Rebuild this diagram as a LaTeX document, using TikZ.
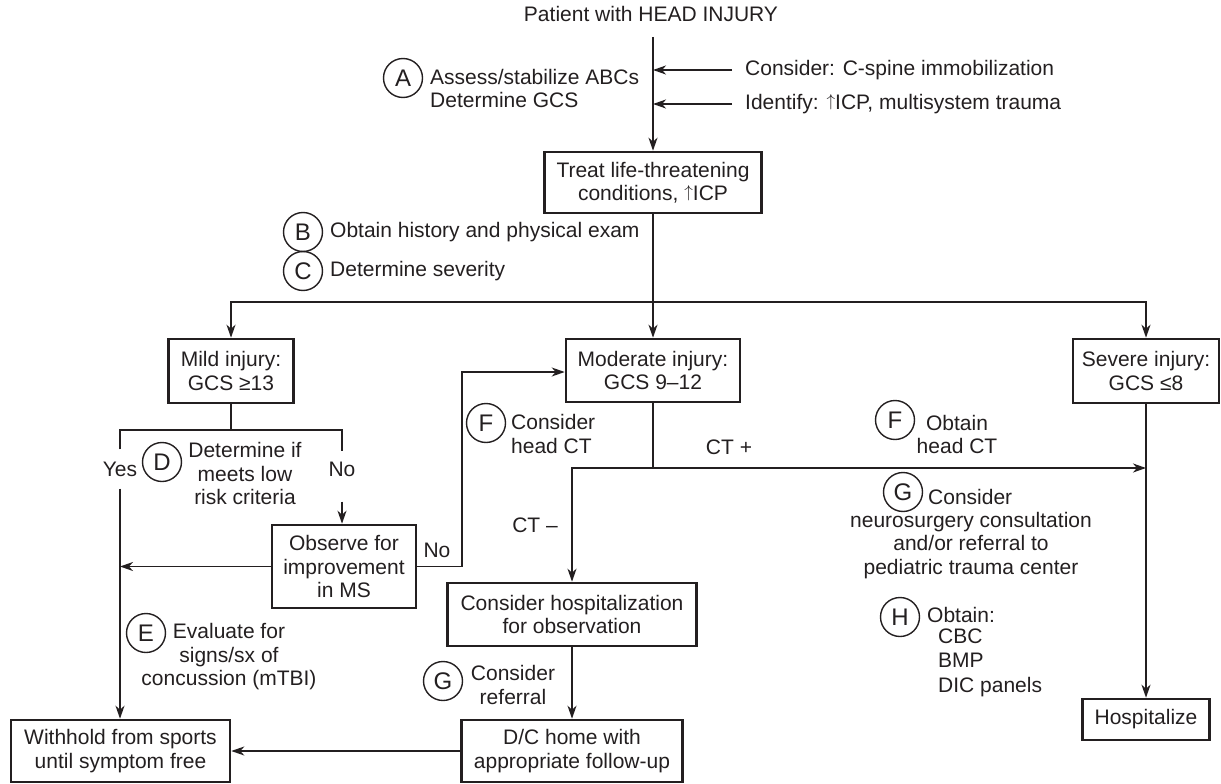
\documentclass[tikz,border=0pt]{standalone}
\usepackage{fontspec}
\setmainfont{Liberation Sans}
\usetikzlibrary{arrows.meta}
\definecolor{ink}{HTML}{231F20}
% thin, cap-height up arrow used before "ICP"
\newcommand{\risearrow}{\raisebox{3.2pt}{\fontsize{17}{17}\selectfont$\uparrow$}}
\begin{document}
\begin{tikzpicture}[x=1pt,y=-1pt,
  every node/.style={font=\fontsize{21}{23.5}\selectfont, text=ink},
  box/.style={draw=ink, line width=2.6pt, inner sep=0pt, align=center},
  circ/.style={draw=ink, circle, line width=1.4pt, minimum size=39pt, inner sep=0pt, font=\fontsize{24}{24}\selectfont},
  txt/.style={inner sep=0pt},
  link/.style={draw=ink, line width=1.8pt},
  arr/.style={link, -{Stealth[length=13pt,width=9pt,inset=4pt]}},
]
\useasboundingbox (0,0) rectangle (1221,784);

% entry and initial assessment
\node[txt] (title) at (651,14) {Patient with HEAD INJURY};
\coordinate (top) at (653,37);
\node[box, minimum width=217pt, minimum height=61pt] (treat) at (653,182.5) {Treat life-threatening\\conditions, \risearrow ICP};
\draw[arr] (top) -- (treat.north);

\node[txt, anchor=west] (cspine) at (745,70) {Consider: C-spine immobilization};
\node[txt, anchor=west] (ident) at (745,104) {Identify: \risearrow ICP, multisystem trauma};
\draw[arr] ([xshift=-13pt]cspine.west) -- (cspine.west -| top);
\draw[arr] ([xshift=-13pt]ident.west) -- (ident.west -| top);

\node[circ] (cA) at (403,78) {A};
\node[txt, anchor=west, align=left] (tA) at (430,88.5) {Assess/stabilize ABCs\\Determine GCS};

\node[circ] (cB) at (303,232) {B};
\node[txt, anchor=west] (tB) at (330,232) {Obtain history and physical exam};
\node[circ] (cC) at (303,271) {C};
\node[txt, anchor=west] (tC) at (330,271) {Determine severity};

% severity split
\node[box, minimum width=125pt, minimum height=64pt] (mild) at (231,371) {Mild injury:\\GCS ≥13};
\node[box, minimum width=174pt, minimum height=63pt] (mod) at (653,370.5) {Moderate injury:\\GCS 9–12};
\node[box, minimum width=146pt, minimum height=64pt] (sev) at (1146,371) {Severe injury:\\GCS ≤8};
\coordinate (split) at (653,302);
\draw[arr] (treat.south) -- (mod.north);
\draw[arr] (split) -| (mild.north);
\draw[arr] (split) -| (sev.north);

% mild injury branch
\node[inner xsep=0pt, inner ysep=12pt] (yes) at (120,469) {Yes};
\node[inner xsep=0pt, inner ysep=10pt] (no) at (342,469) {No};
\coordinate (mj) at (231,430);
\draw[link] (mild.south) -- (mj);
\draw[link] (yes.north) |- (mj) -| (no.north);
\node[circ] (cD) at (162,462) {D};
\node[txt, align=center] (tD) at (245,473.5) {Determine if\\meets low\\risk criteria};

\node[box, minimum width=144pt, minimum height=83pt] (obs) at (344,566.5) {Observe for\\improvement\\in MS};
\draw[arr, shorten <=15pt] (no.south) -- (no.south |- obs.north);
\node[box, minimum width=219pt, minimum height=62pt] (wh) at (120.5,751) {Withhold from sports\\until symptom free};
\draw[arr] (yes.south) -- (yes.south |- wh.north);
\draw[arr] (obs.west) -- (obs.west -| yes);

\node[circ] (cE) at (146,633) {E};
\node[txt, align=center] (tE) at (229,657) {Evaluate for\\signs/sx of\\concussion (mTBI)};

\node[txt] (no2) at (437,550) {No};
\coordinate (loop) at (462,372);
\draw[arr] (obs.east) -| (loop) -- (mod.west |- loop);

\node[circ] (cF1) at (486,423) {F};
\node[txt, anchor=west, align=left] (tF1) at (511,434) {Consider\\head CT};

% moderate injury branch
\coordinate (mj2) at (653,468);
\draw[link] (mod.south) -- (mj2);
\draw[arr] (mj2) -- (mj2 -| sev);
\node[box, minimum width=249pt, minimum height=63pt] (hosp) at (572,614.5) {Consider hospitalization\\for observation};
\draw[arr] (mj2) -| (hosp.north);
\node[txt] (ctp) at (729,447) {CT +};
\node[txt] (ctm) at (535,525) {CT –};

\node[box, minimum width=221pt, minimum height=62pt] (dc) at (572,751) {D/C home with\\appropriate follow-up};
\draw[arr] (hosp.south) -- (dc.north);
\draw[arr] (dc.west) -- (wh.east);
\node[circ] (cG2) at (443,681) {G};
\node[txt, align=center] (tG2) at (513,685) {Consider\\referral};

% severe injury branch
\node[box, minimum width=127pt, minimum height=41pt] (hz) at (1146,719.5) {Hospitalize};
\draw[arr] (sev.south) -- (hz.north);

\node[circ] (cF2) at (895,420) {F};
\node[txt, align=center] (tF2) at (957,434.5) {Obtain\\head CT};
\node[circ] (cG1) at (903,492) {G};
\node[txt, anchor=west] (tG1a) at (928,497) {Consider};
\node[txt, align=center] (tG1b) at (971,545.5) {neurosurgery consultation\\and/or referral to\\pediatric trauma center};
\node[circ] (cH) at (900,617) {H};
\node[txt, anchor=west] (tH) at (927,615) {Obtain:};
\node[txt, anchor=west, align=left, font=\fontsize{21}{24.5}\selectfont] (tH2) at (938,662.5) {CBC\\BMP\\DIC panels};
\end{tikzpicture}
\end{document}
